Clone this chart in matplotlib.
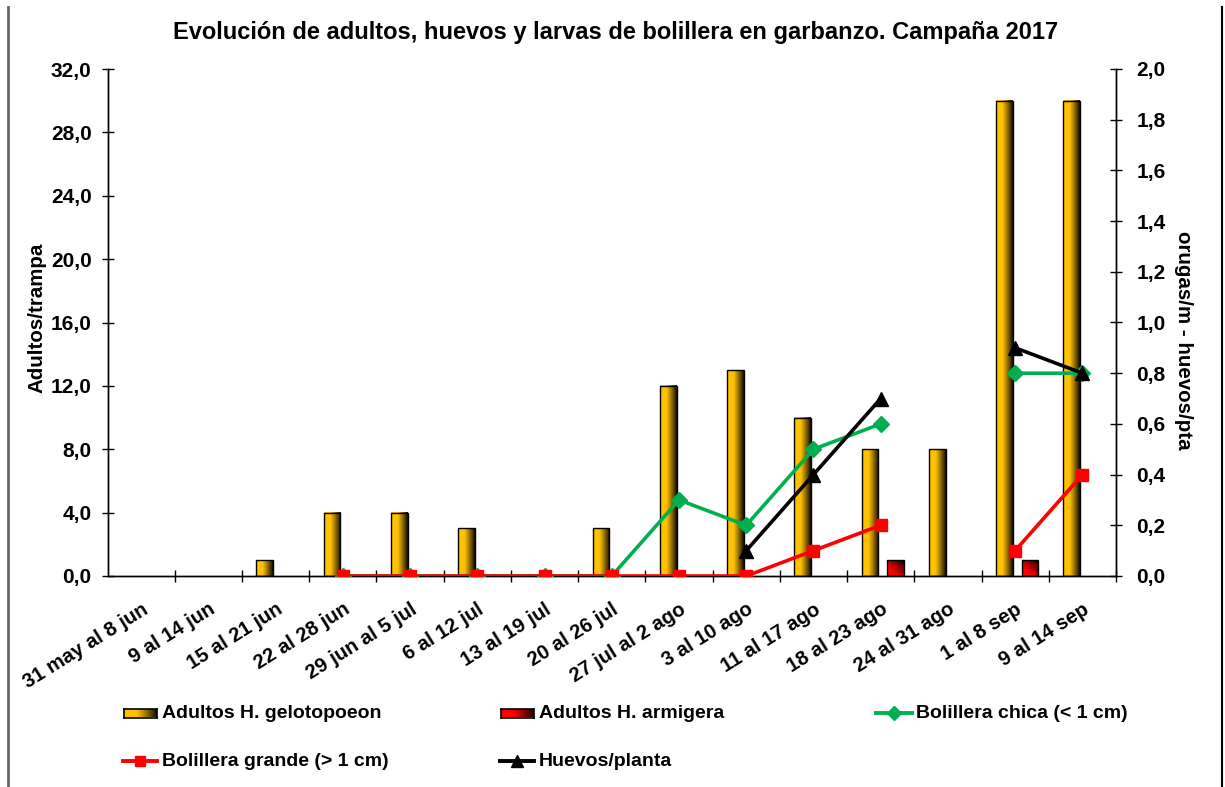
import numpy as np
import matplotlib
matplotlib.use("Agg")
import matplotlib.pyplot as plt
from matplotlib.lines import Line2D
from matplotlib.ticker import FixedLocator, FuncFormatter

plt.rcParams["font.family"] = ["Liberation Sans", "DejaVu Sans"]
plt.rcParams["font.weight"] = "bold"

# data
periods = [
    "31 may al 8 jun", "9 al 14 jun", "15 al 21 jun", "22 al 28 jun",
    "29 jun al 5 jul", "6 al 12 jul", "13 al 19 jul", "20 al 26 jul",
    "27 jul al 2 ago", "3 al 10 ago", "11 al 17 ago", "18 al 23 ago",
    "24 al 31 ago", "1 al 8 sep", "9 al 14 sep",
]
nan = np.nan
adultos_gelotopoeon = [nan, nan, 1, 4, 4, 3, nan, 3, 12, 13, 10, 8, 8, 30, 30]
adultos_armigera = [nan, nan, nan, nan, nan, nan, nan, nan, nan, nan, nan, 1, nan, 1, nan]
bolillera_chica = [nan, nan, nan, 0, 0, 0, 0, 0, 0.3, 0.2, 0.5, 0.6, nan, 0.8, 0.8]
bolillera_grande = [nan, nan, nan, 0, 0, 0, 0, 0, 0, 0, 0.1, 0.2, nan, 0.1, 0.4]
huevos_planta = [nan, nan, nan, nan, nan, nan, nan, nan, nan, 0.1, 0.4, 0.7, nan, 0.9, 0.8]

left_ticks = [0, 4, 8, 12, 16, 20, 24, 28, 32]
right_ticks = [0, 0.2, 0.4, 0.6, 0.8, 1.0, 1.2, 1.4, 1.6, 1.8, 2.0]

GOLD = np.array([1.0, 0.76, 0.0])
GOLD_DARK = np.array([0.08, 0.05, 0.0])
RED = np.array([1.0, 0.0, 0.0])
RED_DARK = np.array([0.1, 0.0, 0.0])
GREEN = "#00B050"


def gradient_image(base, dark, diagonal=False):
    n = 64
    X, Y = np.meshgrid(np.linspace(0, 1, n), np.linspace(0, 1, n))
    if diagonal:
        t = np.clip(0.75 * X + 0.75 * Y - 0.45, 0, 1)
    else:
        t = np.clip((X - 0.38) / 0.62, 0, 1) ** 1.1
    return base[None, None, :] * (1 - t[..., None]) + dark[None, None, :] * t[..., None]


def gradient_bars(ax, xs, heights, width, base, dark, diagonal=False):
    img = gradient_image(base, dark, diagonal)
    for x, h in zip(xs, heights):
        if np.isnan(h):
            continue
        ax.imshow(img, extent=(x - width / 2, x + width / 2, 0, h), origin="lower",
                  aspect="auto", interpolation="bilinear", zorder=2)
        ax.bar(x, h, width=width, facecolor="none", edgecolor="black", linewidth=1.0, zorder=3)


def comma(fmt):
    return FuncFormatter(lambda v, pos: fmt.format(v).replace(".", ","))


W, H = 1225, 787
fig = plt.figure(figsize=(W / 100, H / 100), dpi=100)
ax = fig.add_axes([107.5 / W, 1 - 576 / H, (1116 - 107.5) / W, (576 - 69) / H])
ax2 = ax.twinx()

centers = np.arange(len(periods)) + 0.5
bar_w = 0.25
gradient_bars(ax, centers - 0.16, adultos_gelotopoeon, bar_w, GOLD, GOLD_DARK)
gradient_bars(ax, centers + 0.22, adultos_armigera, bar_w, RED, RED_DARK, diagonal=True)

ax.set_xlim(0, len(periods))
ax.set_ylim(0, 32)
ax2.set_ylim(0, 2)

ax2.plot(centers, bolillera_chica, color=GREEN, lw=2.6, marker="D", ms=8.5, zorder=4)
ax2.plot(centers, bolillera_grande, color="#FF0000", lw=2.6, marker="s", ms=8.5, zorder=5)
ax2.plot(centers, huevos_planta, color="black", lw=2.6, marker="^", ms=10.5, zorder=6)

for a in (ax, ax2):
    a.spines["top"].set_visible(False)
    a.spines["left"].set_linewidth(1.0)
    a.spines["right"].set_linewidth(1.0)
    a.spines["bottom"].set_linewidth(1.0)

ax.set_yticks(left_ticks)
ax.yaxis.set_major_formatter(comma("{:.1f}"))
ax.tick_params(axis="y", direction="inout", length=9, width=1, pad=7, labelsize=15)
ax2.set_yticks(right_ticks)
ax2.yaxis.set_major_formatter(comma("{:.1f}"))
ax2.tick_params(axis="y", direction="inout", length=9, width=1, pad=10, labelsize=15)

ax.set_xticks(centers)
ax.set_xticklabels(periods, rotation=32, ha="right", rotation_mode="anchor")
ax.xaxis.set_minor_locator(FixedLocator(np.arange(1, len(periods) + 1)))
ax.tick_params(axis="x", which="major", length=0, pad=17, labelsize=14.5)
ax.tick_params(axis="x", which="minor", direction="inout", length=8, width=1)
for lab in ax.get_xticklabels() + ax.get_yticklabels() + ax2.get_yticklabels():
    lab.set_fontweight("bold")

fig.text(616 / W, 1 - 33 / H, "Evolución de adultos, huevos y larvas de bolillera en garbanzo. Campaña 2017",
         ha="center", va="center", fontsize=17, fontweight="bold")
fig.text(37 / W, 1 - 318 / H, "Adultos/trampa", rotation=90, ha="center", va="center",
         fontsize=14.8, fontweight="bold")
fig.text(1183 / W, 1 - 340 / H, "orugas/m - huevos/pta", rotation=-90, ha="center", va="center",
         fontsize=14.8, fontweight="bold")


# legend drawn by hand to match the spreadsheet layout
def legend_bar(x0, x1, y, base, dark, label, text_x):
    hh = 9
    lax = fig.add_axes([x0 / W, 1 - (y + hh / 2) / H, (x1 - x0) / W, hh / H])
    lax.imshow(gradient_image(base, dark), extent=(0, 1, 0, 1), aspect="auto", origin="lower")
    lax.set_xticks([])
    lax.set_yticks([])
    for sp in lax.spines.values():
        sp.set_linewidth(1.2)
    fig.text(text_x / W, 1 - y / H, label, ha="left", va="center", fontsize=14, fontweight="bold")


def legend_line(x0, x1, y, color, marker, ms, label, text_x):
    yy = 1 - y / H
    fig.add_artist(Line2D([x0 / W, x1 / W], [yy, yy], color=color, lw=2.8, transform=fig.transFigure))
    fig.add_artist(Line2D([(x0 + x1) / 2 / W], [yy], color=color, marker=marker, ms=ms,
                          transform=fig.transFigure))
    fig.text(text_x / W, yy, label, ha="left", va="center", fontsize=14, fontweight="bold")


legend_bar(124, 157, 713, GOLD, GOLD_DARK, "Adultos H. gelotopoeon", 162)
legend_bar(501, 534, 713, RED, RED_DARK, "Adultos H. armigera", 539)
legend_line(876, 912, 713, GREEN, "D", 7, "Bolillera chica (< 1 cm)", 916)
legend_line(123, 157, 761, "#FF0000", "s", 7.5, "Bolillera grande (> 1 cm)", 162)
legend_line(500, 534, 761, "black", "^", 8.5, "Huevos/planta", 539)

# outer frame edges visible in the reference
fig.add_artist(Line2D([8 / W, 8 / W], [0, 1 - 7 / H], color="#666666", lw=2, transform=fig.transFigure))
fig.add_artist(Line2D([1222 / W, 1222 / W], [0, 1 - 7 / H], color="black", lw=1.5, transform=fig.transFigure))

fig.savefig("out.png", dpi=100)
